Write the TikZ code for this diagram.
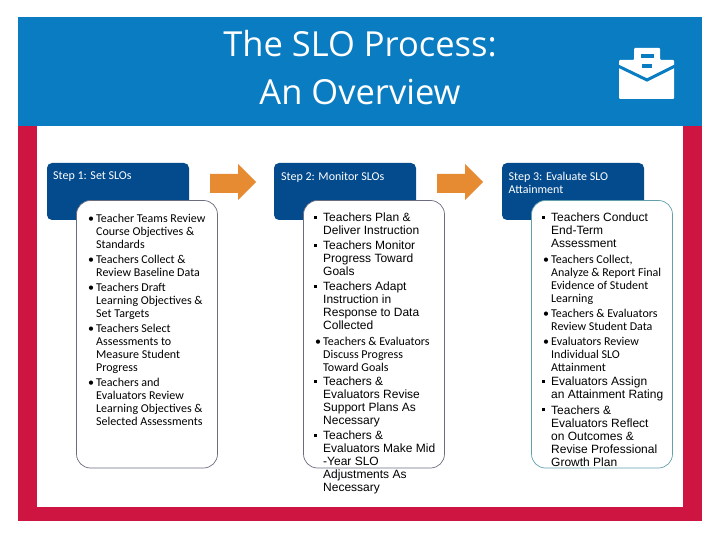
\documentclass[tikz,border=0pt]{standalone}
\usepackage{fontspec}
\setmainfont{Carlito}
\newfontfamily\arialfont{Liberation Sans}
\newfontfamily\titlefont{Open Sans}
\usetikzlibrary{calc}

\definecolor{bandblue}{HTML}{0A7CC1}
\definecolor{framered}{HTML}{CE1441}
\definecolor{stepblue}{HTML}{044B8D}
\definecolor{arroworange}{HTML}{E68B32}
\definecolor{boxgray}{HTML}{6C6C80}
\definecolor{boxteal}{HTML}{62A0AA}

\newcommand{\roundbul}{\llap{\textbullet\hspace{2.2pt}}}
\newcommand{\squarebul}{\llap{\rule[3pt]{3pt}{3pt}\hspace{6pt}}}

\tikzset{
    stepbox/.style={fill=stepblue, rounded corners=5pt},
    stepbody/.style={fill=white, line width=0.7pt, rounded corners=14pt},
    steplabel/.style={anchor=north west, inner sep=0pt, text=white, align=left, font=\fontsize{12}{13}\selectfont},
    caribri/.style={anchor=north west, inner sep=0pt, align=left, font=\fontsize{12}{13}\selectfont},
    arialitem/.style={anchor=north west, inner sep=0pt, align=left, font=\arialfont\fontsize{12}{13}\selectfont},
    flowarrow/.style={fill=arroworange}
}

\begin{document}
\begin{tikzpicture}[x=1pt, y=-1pt]
    \useasboundingbox (0,0) rectangle (720,540);
    % --- 1. Frame and title band ---
    \fill[framered] (18,126) rectangle (702,521);
    \fill[white] (37,126) rectangle (683,507);
    \fill[bandblue] (18,17) rectangle (702,126);
    \node[text=white, align=center, font=\titlefont\fontsize{34.5}{48}\selectfont] (title) at (360,68) {The SLO Process:\\An Overview};

    % --- 2. Briefcase icon ---
    \fill[white, rounded corners=1pt] (634,60) -- (634,48) -- (660,48) -- (660,60) -- (674,60) -- (674,99) -- (619,99) -- (619,60) -- cycle;
    \fill[bandblue] (641,54) rectangle (654,58);
    \fill[bandblue] (642,64) rectangle (652,68);
    \draw[bandblue, line width=3pt] (618,66) -- (647,80) -- (675,66);

    % --- 3. Step boxes ---
    \foreach \boxX/\boxcol in {47/boxgray, 274/boxgray, 502/boxteal} {
        \fill[stepbox] (\boxX,163) rectangle ++(142,57);
        \draw[stepbody, draw=\boxcol] ({\boxX+29.5},200.5) rectangle ++(141,267.5);
    }

    % --- 4. Arrows ---
    \foreach \arrX in {210,437} {
        \fill[flowarrow] (\arrX,174) -- ++(28,0) -- ++(0,-10) -- ++(18,18) -- ++(-18,18) -- ++(0,-7) -- ++(-28,0) -- cycle;
    }

    % --- 5. Step labels ---
    \node[steplabel] (stepA) at (53,172) {Step 1: Set SLOs};
    \node[steplabel] (stepB) at (281,172) {Step 2: Monitor SLOs};
    \node[steplabel] (stepC) at (508.5,172) {Step 3: Evaluate SLO\\Attainment};

    % --- 6. Step 1 list ---
    \node[caribri] (setA) at (96,214) {\roundbul Teacher Teams Review\\Course Objectives \&\\Standards};
    \node[caribri] (setB) at (96,255) {\roundbul Teachers Collect \&\\Review Baseline Data};
    \node[caribri] (setC) at (96,283) {\roundbul Teachers Draft\\Learning Objectives \&\\Set Targets};
    \node[caribri] (setD) at (96,324) {\roundbul Teachers Select\\Assessments to\\Measure Student\\Progress};
    \node[caribri] (setE) at (96,378) {\roundbul Teachers and\\Evaluators Review\\Learning Objectives \&\\Selected Assessments};

    % --- 7. Step 2 list ---
    \node[arialitem] (monA) at (323,213) {\squarebul Teachers Plan \&\\Deliver Instruction};
    \node[arialitem] (monB) at (323,241) {\squarebul Teachers Monitor\\Progress Toward\\Goals};
    \node[arialitem] (monC) at (323,282) {\squarebul Teachers Adapt\\Instruction in\\Response to Data\\Collected};
    \node[caribri] (monD) at (323,337) {\roundbul Teachers \& Evaluators\\Discuss Progress\\Toward Goals};
    \node[arialitem] (monE) at (323,377) {\squarebul Teachers \&\\Evaluators Revise\\Support Plans As\\Necessary};
    \node[arialitem] (monF) at (323,431) {\squarebul Teachers \&\\Evaluators Make Mid\\-Year SLO\\Adjustments As\\Necessary};

    % --- 8. Step 3 list ---
    \node[arialitem] (evalA) at (551,213) {\squarebul Teachers Conduct\\End-Term\\Assessment};
    \node[caribri] (evalB) at (551,255) {\roundbul Teachers Collect,\\Analyze \& Report Final\\Evidence of Student\\Learning};
    \node[caribri] (evalC) at (551,309) {\roundbul Teachers \& Evaluators\\Review Student Data};
    \node[caribri] (evalD) at (551,337) {\roundbul Evaluators Review\\Individual SLO\\Attainment};
    \node[arialitem] (evalE) at (551,377) {\squarebul Evaluators Assign\\an Attainment Rating};
    \node[arialitem] (evalF) at (551,405.5) {\squarebul Teachers \&\\Evaluators Reflect\\on Outcomes \&\\Revise Professional\\Growth Plan};
\end{tikzpicture}
\end{document}
